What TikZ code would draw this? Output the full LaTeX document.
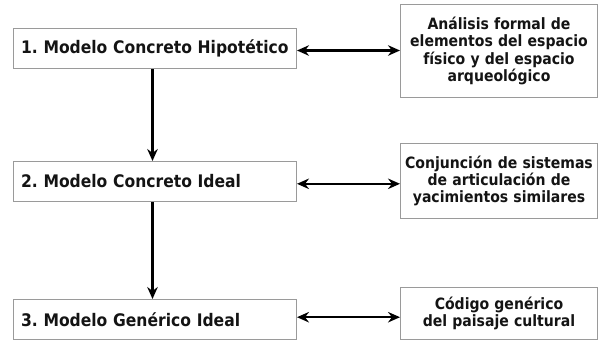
\documentclass[tikz,border=0pt]{standalone}
\usepackage{fontspec}
\newfontfamily\boxfont{DejaVu Sans Condensed}
\usetikzlibrary{arrows.meta}
\definecolor{framegray}{HTML}{9A9A9A}
\definecolor{inkdark}{HTML}{141414}
\frenchspacing
\begin{document}
\begin{tikzpicture}[x=1pt,y=-1pt,
  modelbox/.style={draw=framegray, line width=1pt, fill=white, anchor=north west,
    minimum width=283pt, minimum height=40pt, inner xsep=7.5pt, inner ysep=0pt,
    text width=268pt, align=left, text=inkdark,
    font=\boxfont\bfseries\fontsize{17.3}{20}\selectfont},
  notebox/.style={draw=framegray, line width=1pt, fill=white, anchor=north west,
    minimum width=197pt, inner xsep=2pt, inner ysep=0pt,
    text width=193pt, align=center, text=inkdark,
    font=\boxfont\bfseries\fontsize{15.6}{17.3}\selectfont},
  tip/.style={Stealth[length=12pt,width=10.5pt,inset=4pt]},
  link/.style={line width=2.3pt, draw=black, {Stealth[length=12pt,width=10.5pt,inset=4pt]}-{Stealth[length=12pt,width=10.5pt,inset=4pt]}},
  down/.style={line width=2.3pt, draw=black, -{Stealth[length=12pt,width=10.5pt,inset=4pt]}}
]
\useasboundingbox (0,0) rectangle (603,341);

% left column: the three models
\node[modelbox] (m1) at (13,28) {1. Modelo Concreto Hipotético};
\node[modelbox] (m2) at (13,161) {2. Modelo Concreto Ideal};
\node[modelbox] (m3) at (13,299) {3. Modelo Genérico Ideal};

% right column: what each model rests on
\node[notebox, minimum height=93pt] (n1) at (400,4)
  {Análisis formal de\\elementos del espacio\\físico y del espacio\\arqueológico};
\node[notebox, minimum height=75pt] (n2) at (400,143)
  {Conjunción de sistemas\\de articulación de\\yacimientos similares};
\node[notebox, minimum height=52pt] (n3) at (400,287)
  {Código genérico\\del paisaje cultural};

% sequence of models
\draw[down] ([xshift=-2.5pt]m1.south) -- ([xshift=-2.5pt]m2.north);
\draw[down] ([xshift=-2.5pt]m2.south) -- ([xshift=-2.5pt]m3.north);

% two-way links between each model and its note (yshift is in page units: + is up)
\draw[link] ([yshift=-2pt]m1.east) -- ([yshift=0.5pt]n1.west);
\draw[link] ([yshift=-2.3pt]m2.east) -- ([yshift=-2.8pt]n2.west);
\draw[link] ([yshift=2.3pt]m3.east) -- ([yshift=-3.7pt]n3.west);
\end{tikzpicture}
\end{document}
